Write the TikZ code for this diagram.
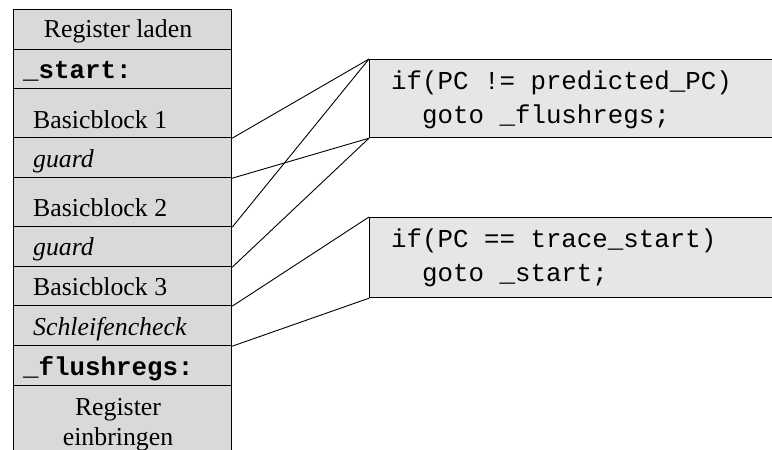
\documentclass[tikz,border=0pt]{standalone}
\usepackage{fontspec}
\setmainfont{Liberation Serif}
\setmonofont{Liberation Mono}
\begin{document}
\begin{tikzpicture}[x=1pt,y=-1pt,
  rowbox/.style={draw=black, line width=1.2pt, fill=rowgray, inner sep=0pt,
    minimum width=218pt, anchor=north west},
  codebox/.style={draw=black, line width=1.2pt, fill=codegray, inner sep=0pt,
    minimum width=420pt, anchor=north west},
  lbl/.style={inner sep=0pt, anchor=base west, font=\fontsize{25.8}{30}\selectfont},
  clbl/.style={inner sep=0pt, anchor=base, align=center, font=\fontsize{25.8}{30}\selectfont},
  code/.style={inner sep=0pt, anchor=base west, font=\fontsize{25.8}{30}\selectfont\ttfamily},
  link/.style={line width=0.9pt, draw=black}]
\definecolor{rowgray}{HTML}{D9D9D9}
\definecolor{codegray}{HTML}{E6E6E6}
\useasboundingbox (0,0) rectangle (772,450);
\clip (0,0) rectangle (772,450);

% left column: the trace blocks
\node[rowbox, minimum height=40pt] (r1) at (13,9) {};
\node[rowbox, minimum height=39pt] (r2) at (13,49) {};
\node[rowbox, minimum height=49pt] (r3) at (13,88) {};
\node[rowbox, minimum height=40pt] (r4) at (13,137) {};
\node[rowbox, minimum height=49pt] (r5) at (13,177) {};
\node[rowbox, minimum height=40pt] (r6) at (13,226) {};
\node[rowbox, minimum height=39pt] (r7) at (13,266) {};
\node[rowbox, minimum height=40pt] (r8) at (13,305) {};
\node[rowbox, minimum height=40pt] (r9) at (13,345) {};
\node[rowbox, minimum height=90pt] (r10) at (13,385) {};

\node[clbl] (t1) at (118,37) {Register laden};
\node[lbl, font=\fontsize{25.8}{30}\selectfont\ttfamily\bfseries] (t2) at (23,78) {\_start:};
\node[lbl] (t3) at (33,128) {Basicblock 1};
\node[lbl] (t4) at (33,167) {\itshape guard};
\node[lbl] (t5) at (33,216) {Basicblock 2};
\node[lbl] (t6) at (33,255) {\itshape guard};
\node[lbl] (t7) at (33,295) {Basicblock 3};
\node[lbl] (t8) at (33,335) {\itshape Schleifencheck};
\node[lbl, font=\fontsize{25.8}{30}\selectfont\ttfamily\bfseries] (t9) at (23,375) {\_flushregs:};
% two-line label: the base anchor sits on the last line
\node[clbl] (t10) at (118,445) {Register\\einbringen};

% right side: the guard code
\node[codebox, minimum height=78pt] (c1) at (369,59) {};
\node[codebox, minimum height=80pt] (c2) at (369,217) {};
\node[code] (c1a) at (391,89) {if(PC != predicted\_PC)};
\node[code] (c1b) at (391,123) {\ \ goto \_flushregs;};
\node[code] (c2a) at (391,247) {if(PC == trace\_start)};
\node[code] (c2b) at (391,281) {\ \ goto \_start;};

% connectors from block boundaries to the code boxes
\draw[link] (r3.south east) -- (c1.north west);
\draw[link] (r4.south east) -- (c1.south west);
\draw[link] (r5.south east) -- (c1.north west);
\draw[link] (r6.south east) -- (c1.south west);
\draw[link] (r7.south east) -- (c2.north west);
\draw[link] (r8.south east) -- (c2.south west);
\end{tikzpicture}
\end{document}
